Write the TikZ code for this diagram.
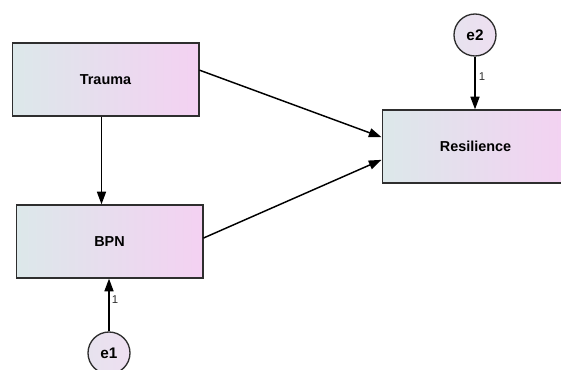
\documentclass[tikz,border=0pt]{standalone}
\usepackage{fontspec}
\setmainfont{Liberation Sans}
\usetikzlibrary{arrows.meta}
\definecolor{boxleft}{HTML}{DCE8EA}
\definecolor{boxright}{HTML}{F4D1F2}
\definecolor{circfill}{HTML}{EEDFF1}
\definecolor{edge}{HTML}{2E2E2E}
\tikzset{
  varbox/.style={draw=edge, line width=1pt, left color=boxleft, right color=boxright,
    minimum width=140pt, minimum height=54.75pt, inner sep=0pt, font=\bfseries\fontsize{10.8}{12}\selectfont},
  errcirc/.style={circle, draw=edge, line width=1pt, left color=boxleft!40!circfill, right color=circfill,
    minimum size=31.5pt, inner sep=0pt, font=\bfseries\fontsize{11.5}{12}\selectfont},
  patharrow/.style={draw=black, line width=1.1pt, -{Triangle[length=9.5pt,width=6.8pt]}},
  wlabel/.style={font=\fontsize{8.5}{9}\selectfont, inner sep=0pt, text=edge}
}
\begin{document}
\begin{tikzpicture}[x=0.75pt, y=-0.75pt]
\useasboundingbox (0,0) rectangle (561,370);
\node[varbox] (trauma) at (105.5,79.5) {Trauma};
\node[varbox] (bpn) at (109.5,241.5) {BPN};
\node[varbox] (res) at (475.5,146.5) {Resilience};
\node[errcirc] (e2) at (475,35) {e2};
\node[errcirc] (e1) at (109,353) {e1};
\node[wlabel] (l2) at (482,77) {1};
\node[wlabel] (l1) at (115,300) {1};
\draw[patharrow] ([yshift=7pt]trauma.east) -- ([yshift=7pt]res.west);
\draw[patharrow] ([yshift=2.6pt]bpn.east) -- ([yshift=-10pt]res.west);
\draw[patharrow] ([xshift=-3pt]trauma.south) -- ([xshift=-3pt]trauma.south |- bpn.north);
\draw[patharrow] (e2) -- (e2 |- res.north);
\draw[patharrow] (e1) -- (e1 |- bpn.south);
\end{tikzpicture}
\end{document}
